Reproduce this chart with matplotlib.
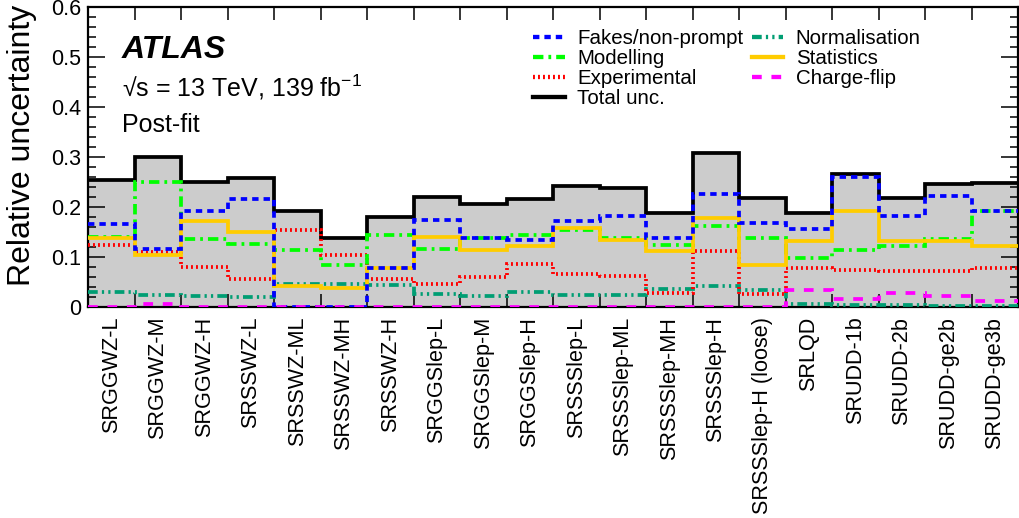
import numpy as np
import matplotlib
matplotlib.use('Agg')
import matplotlib.pyplot as plt
from matplotlib.lines import Line2D
from matplotlib.ticker import MultipleLocator, FuncFormatter, NullFormatter

regions = ["SRGGWZ-L", "SRGGWZ-M", "SRGGWZ-H", "SRSSWZ-L", "SRSSWZ-ML", "SRSSWZ-MH",
           "SRSSWZ-H", "SRGGSlep-L", "SRGGSlep-M", "SRGGSlep-H", "SRSSSlep-L",
           "SRSSSlep-ML", "SRSSSlep-MH", "SRSSSlep-H", "SRSSSlep-H (loose)", "SRLQD",
           "SRUDD-1b", "SRUDD-2b", "SRUDD-ge2b", "SRUDD-ge3b"]

total = [0.254, 0.301, 0.251, 0.259, 0.193, 0.139, 0.181, 0.221, 0.207, 0.216,
         0.243, 0.239, 0.189, 0.309, 0.219, 0.189, 0.266, 0.219, 0.247, 0.248]
fakes = [0.166, 0.117, 0.193, 0.216, 0.0, 0.0, 0.079, 0.174, 0.139, 0.134,
         0.173, 0.182, 0.139, 0.226, 0.169, 0.156, 0.261, 0.183, 0.223, 0.192]
modelling = [0.140, 0.251, 0.137, 0.127, 0.115, 0.085, 0.145, 0.117, 0.139, 0.144,
             0.154, 0.139, 0.125, 0.163, 0.139, 0.099, 0.114, 0.122, 0.137, 0.192]
experimental = [0.124, 0.111, 0.081, 0.057, 0.154, 0.104, 0.057, 0.046, 0.061, 0.086,
                0.066, 0.063, 0.029, 0.113, 0.026, 0.079, 0.075, 0.072, 0.072, 0.079]
normalisation = [0.031, 0.024, 0.022, 0.021, 0.047, 0.046, 0.044, 0.027, 0.022, 0.031,
                 0.024, 0.024, 0.036, 0.042, 0.034, 0.006, 0.004, 0.004, 0.003, 0.002]
statistics = [0.139, 0.104, 0.173, 0.151, 0.043, 0.039, 0.079, 0.141, 0.114, 0.123,
              0.159, 0.134, 0.113, 0.179, 0.085, 0.133, 0.193, 0.133, 0.133, 0.123]
chargeflip = [0.0, 0.006, 0.0, 0.0, 0.0, 0.0, 0.0, 0.0, 0.0, 0.0,
              0.0, 0.0, 0.0, 0.0, 0.0, 0.034, 0.017, 0.028, 0.023, 0.012]

plt.rcParams['font.family'] = ['Liberation Sans', 'DejaVu Sans']
plt.rcParams['lines.scale_dashes'] = False
plt.rcParams['mathtext.fontset'] = 'custom'
plt.rcParams['mathtext.rm'] = 'Liberation Sans'

W, H = 1019, 518
fig = plt.figure(figsize=(W / 100, H / 100), dpi=100)
ax = fig.add_axes([88 / W, (H - 307) / H, (1018 - 88) / W, 300 / H])

edges = np.arange(len(regions) + 1)
lw = 2.7

styles = {
    'fakes': dict(color='#0000ff', linestyle=(0, (4.6, 3.6))),
    'modelling': dict(color='#00ff00', linestyle=(0, (7.5, 3.6, 2.0, 3.6))),
    'experimental': dict(color='#ff0000', linestyle=(0, (1.4, 2.2))),
    'total': dict(color='black', linestyle='-'),
    'normalisation': dict(color='#009e73', linestyle=(0, (7.0, 3.0, 1.6, 3.0, 1.6, 3.0))),
    'statistics': dict(color='#ffcc00', linestyle='-'),
    'chargeflip': dict(color='#ff00ff', linestyle=(0, (7.0, 7.0))),
}

ax.stairs(total, edges, fill=True, color='#cccccc', linewidth=0, zorder=1)
ax.stairs(total, edges, baseline=None, linewidth=lw, zorder=3, **styles['total'])
ax.stairs(normalisation, edges, baseline=None, linewidth=lw, zorder=4, **styles['normalisation'])
ax.stairs(experimental, edges, baseline=None, linewidth=lw, zorder=5, **styles['experimental'])
ax.stairs(modelling, edges, baseline=None, linewidth=lw, zorder=6, **styles['modelling'])
ax.stairs(statistics, edges, baseline=None, linewidth=lw, zorder=7, **styles['statistics'])
ax.stairs(fakes, edges, baseline=None, linewidth=lw, zorder=8, **styles['fakes'])
ax.stairs(chargeflip, edges, baseline=None, linewidth=lw, zorder=9, **styles['chargeflip'])

ax.set_xlim(0, len(regions))
ax.set_ylim(0, 0.6)

ax.set_xticks(edges)
ax.xaxis.set_major_formatter(NullFormatter())
ax.set_xticks(edges[:-1] + 0.5, minor=True)
ax.set_xticklabels(regions, minor=True, rotation=90, fontsize=15.6)
ax.tick_params(axis='x', which='major', direction='in', length=9.5, width=1.1,
               top=True, bottom=True)
ax.tick_params(axis='x', which='minor', length=0, pad=7, top=False)

ax.yaxis.set_major_locator(MultipleLocator(0.1))
ax.yaxis.set_minor_locator(MultipleLocator(0.02))
ax.yaxis.set_major_formatter(FuncFormatter(lambda v, p: '0' if abs(v) < 1e-9 else f'{v:.1f}'))
ax.tick_params(axis='y', which='major', direction='in', length=12, width=1.1,
               left=True, right=True, labelsize=15.5, pad=5)
ax.tick_params(axis='y', which='minor', direction='in', length=6, width=1.1,
               left=True, right=True)
for s in ax.spines.values():
    s.set_linewidth(1.6)
    s.set_zorder(2)

fig.text(22 / W, 1 - 145 / H, 'Relative uncertainty', rotation=90,
         ha='center', va='center', fontsize=23)

fig.text(122 / W, 1 - 58 / H, 'ATLAS', fontsize=23, fontweight='bold',
         fontstyle='italic', va='baseline', ha='left')
fig.text(122 / W, 1 - 97 / H, '√s = 13 TeV, 139 fb$^{\\mathregular{-1}}$',
         fontsize=18, va='baseline', ha='left')
fig.text(122 / W, 1 - 132 / H, 'Post-fit', fontsize=18, va='baseline', ha='left')

labels = ['Fakes/non-prompt', 'Modelling', 'Experimental', 'Total unc.',
          'Normalisation', 'Statistics', 'Charge-flip']
keys = ['fakes', 'modelling', 'experimental', 'total',
        'normalisation', 'statistics', 'chargeflip']
handles = [Line2D([], [], linewidth=lw + 0.4, **styles[k]) for k in keys]
leg = ax.legend(handles, labels, ncol=2, loc='upper left',
                bbox_to_anchor=(533 / W, 1 - 29 / H), bbox_transform=fig.transFigure,
                frameon=False, fontsize=14.8, handlelength=1.55, handletextpad=0.6,
                columnspacing=0.4, labelspacing=0.05, borderpad=0, borderaxespad=0)

fig.savefig('out.png', dpi=100)
